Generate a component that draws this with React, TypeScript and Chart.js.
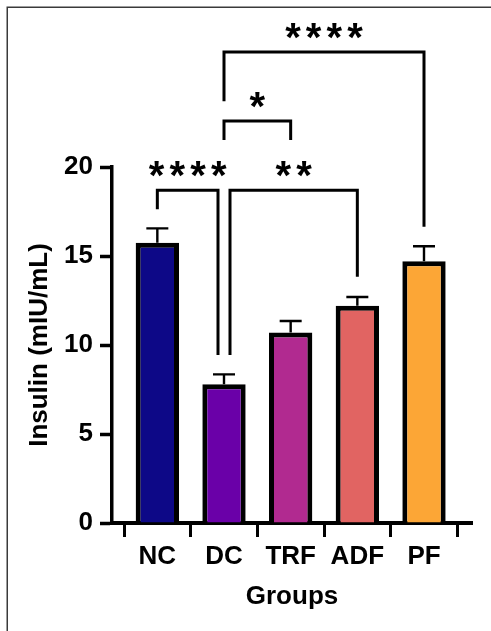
import React, { useEffect, useRef } from 'react';
import { Chart, registerables } from 'chart.js';

Chart.register(...registerables);

// ---- data ----
const groups = ['NC', 'DC', 'TRF', 'ADF', 'PF'];
const means = [15.75, 7.8, 10.7, 12.2, 14.7];
const sems = [0.8, 0.55, 0.65, 0.5, 0.85];
const barColors = ['#0D0887', '#6A00A8', '#B12A90', '#E16462', '#FCA636'];
const yTickValues = [0, 5, 10, 15, 20];

// significance comparisons (category positions / y levels in data units)
const sigLeft = [0, 1.09, 1, 1];
const sigRight = [0.91, 3, 2, 4];
const sigLevel = [18.7, 18.7, 22.58, 26.46];
const sigLeftEnd = [17.62, 9.44, 21.52, 23.7];
const sigRightEnd = [9.44, 13.84, 21.52, 16.65];
const sigLabels = ['****', '**', '*', '****'];

const FONT = "'Liberation Sans', Arial, Helvetica, sans-serif";

const annotPlugin = {
  id: 'annot',
  afterDraw(chart: any) {
    const { ctx } = chart;
    const xs = chart.scales.x;
    const ys = chart.scales.y;
    ctx.save();
    // frame
    ctx.strokeStyle = '#3a3a3a';
    ctx.lineWidth = 1.5;
    ctx.beginPath();
    ctx.moveTo(7.25, 631);
    ctx.lineTo(7.25, 7.25);
    ctx.lineTo(491, 7.25);
    ctx.stroke();

    // error bars
    ctx.strokeStyle = '#000';
    ctx.lineWidth = 2.4;
    ctx.lineCap = 'butt';
    means.forEach((m, i) => {
      const px = xs.getPixelForValue(i);
      const yt = ys.getPixelForValue(m);
      const ye = ys.getPixelForValue(m + sems[i]);
      ctx.beginPath();
      ctx.moveTo(px, yt);
      ctx.lineTo(px, ye);
      ctx.moveTo(px - 11, ye);
      ctx.lineTo(px + 11, ye);
      ctx.stroke();
    });

    // brackets
    ctx.lineWidth = 3;
    ctx.lineJoin = 'miter';
    ctx.font = `bold 40px ${FONT}`;
    ctx.fillStyle = '#000';
    ctx.textAlign = 'center';
    ctx.textBaseline = 'alphabetic';
    const mt = ctx.measureText('*');
    const base = (mt.actualBoundingBoxAscent - mt.actualBoundingBoxDescent) / 2;
    sigLabels.forEach((lab, i) => {
      const xl = xs.getPixelForValue(sigLeft[i]);
      const xr = xs.getPixelForValue(sigRight[i]);
      const yl = ys.getPixelForValue(sigLevel[i]);
      ctx.beginPath();
      ctx.moveTo(xl, ys.getPixelForValue(sigLeftEnd[i]));
      ctx.lineTo(xl, yl);
      ctx.lineTo(xr, yl);
      ctx.lineTo(xr, ys.getPixelForValue(sigRightEnd[i]));
      ctx.stroke();
      const cx = (xl + xr) / 2;
      const cy = yl - 21;
      const n = lab.length;
      for (let k = 0; k < n; k++) {
        const sx = cx + (k - (n - 1) / 2) * 20.7;
        ctx.fillText('*', sx, cy + base);
      }
    });
    ctx.restore();
  },
};

export default function App() {
  const ref = useRef<HTMLCanvasElement | null>(null);
  useEffect(() => {
    if (!ref.current) return;
    const chart = new Chart(ref.current, {
      type: 'bar',
      data: {
        datasets: [
          {
            data: means.map((v, i) => ({ x: i, y: v })),
            backgroundColor: barColors,
            borderColor: '#000',
            borderWidth: 5,
            borderSkipped: 'start',
            barPercentage: 0.65,
            categoryPercentage: 1,
          } as any,
        ],
      },
      options: {
        animation: false,
        responsive: false,
        devicePixelRatio: 1,
        layout: { padding: { top: 167, right: 19, left: 0, bottom: 0 } },
        plugins: { legend: { display: false }, tooltip: { enabled: false } },
        scales: {
          x: {
            type: 'linear',
            min: -0.68,
            max: 4.72,
            offset: false,
            afterBuildTicks: (s: any) => {
              s.ticks = groups.map((_, i) => ({ value: i }));
            },
            afterFit: (s: any) => {
              s.height = 108;
            },
            ticks: {
              callback: (v: any) => groups[v],
              autoSkip: false,
              maxRotation: 0,
              color: '#000',
              padding: 4,
              font: { family: FONT, size: 26, weight: 'bold' },
            },
            grid: {
              drawOnChartArea: false,
              drawTicks: true,
              tickLength: 14,
              tickWidth: 3,
              tickColor: '#000',
              color: '#000',
            },
            border: { display: true, width: 4, color: '#000' },
            title: {
              display: true,
              text: 'Groups',
              color: '#000',
              font: { family: FONT, size: 26, weight: 'bold' },
              padding: { top: 0, bottom: 19 },
            },
          },
          y: {
            min: 0,
            max: 20,
            afterBuildTicks: (s: any) => {
              s.ticks = yTickValues.map((v) => ({ value: v }));
            },
            afterFit: (s: any) => {
              s.width = 112;
            },
            ticks: {
              color: '#000',
              padding: 7,
              font: { family: FONT, size: 26, weight: 'bold' },
            },
            grid: {
              drawOnChartArea: false,
              drawTicks: true,
              tickLength: 12,
              tickWidth: 3.5,
              tickColor: '#000',
              color: '#000',
            },
            border: { display: true, width: 3.5, color: '#000' },
            title: {
              display: true,
              text: 'Insulin (mIU/mL)',
              color: '#000',
              font: { family: FONT, size: 26, weight: 'bold' },
              padding: { top: 24, bottom: 0 },
            },
          },
        },
      } as any,
      plugins: [annotPlugin],
    });
    return () => chart.destroy();
  }, []);

  return (
    <div style={{ position: 'absolute', left: 0, top: 0, width: 491, height: 631, background: '#fff' }}>
      <canvas ref={ref} width={491} height={631} style={{ display: 'block' }} />
    </div>
  );
}
